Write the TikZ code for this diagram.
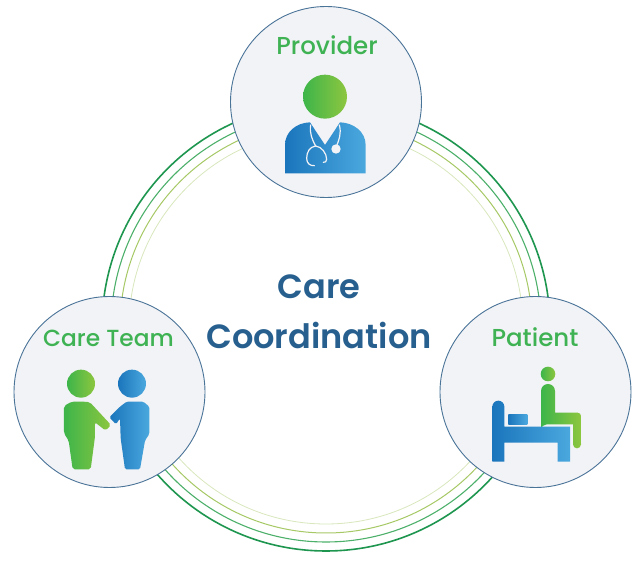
\documentclass[tikz,border=0pt]{standalone}
\usepackage{fontspec}
\setmainfont{Poppins}[BoldFont={Poppins Medium},Ligatures=NoCommon]
\newfontfamily\titlefont{Poppins SemiBold}[Ligatures=NoCommon]
\definecolor{ringa}{HTML}{1E9650}
\definecolor{ringb}{HTML}{4DB06A}
\definecolor{ringc}{HTML}{A6C865}
\definecolor{ringd}{HTML}{D8E7BC}
\definecolor{discfill}{HTML}{F2F3F6}
\definecolor{discline}{HTML}{4A7398}
\definecolor{labelgreen}{HTML}{3FB354}
\definecolor{titleblue}{HTML}{27608F}
\definecolor{gl}{HTML}{3DB54A}
\definecolor{gr}{HTML}{8DC63F}
\definecolor{bl}{HTML}{1B75BC}
\definecolor{br}{HTML}{4BA8DE}
\tikzset{
 disc/.style={circle,draw=discline,line width=0.9pt,fill=discfill,minimum size=191pt,inner sep=0pt},
 lab/.style={text=labelgreen,font=\fontsize{24.5}{24.5}\selectfont\bfseries,inner sep=0pt},
 ttl/.style={text=titleblue,font=\fontsize{33.6}{33.6}\titlefont,inner sep=0pt},
 greenic/.style={left color=gl,right color=gr,draw=none},
 blueic/.style={left color=bl,right color=br,draw=none},
 scope3/.style={x=0.33333pt,y=-0.33333pt},
 steth/.style={draw=discfill,line width=1.2pt,line cap=round,fill=none}
}
\begin{document}
\begin{tikzpicture}[x=1pt,y=-1pt]
\useasboundingbox (0,0) rectangle (641,561);
\coordinate (c) at (326,327);
\draw[ringd,line width=0.8pt] (c) circle (197pt);
\draw[ringc,line width=1pt] (c) circle (206pt);
\draw[ringb,line width=1.1pt] (c) circle (215pt);
\draw[ringa,line width=1.6pt] (c) circle (224pt);
\node[disc] (prov) at (326,102) {};
\node[disc] (team) at (109.5,392) {};
\node[disc] (pat) at (535.5,392) {};
\node[lab] (tprov) at (327,45) {Provider};
\node[lab,font=\fontsize{23.3}{23.3}\selectfont\bfseries] (tteam) at (108.5,338) {Care Team};
\node[lab] (tpat) at (535,337) {Patient};
\node[ttl] (t1) at (319,287) {Care};
\node[ttl] (t2) at (319,335) {Coordination};
% provider icon
\begin{scope}[shift={(225,0)},scope3]
\shade[greenic] (300,290) circle (22pt);
\shade[blueic] (180,520) -- (180,435) .. controls (180,395) and (215,368) .. (255,367) -- (300,435) -- (345,367) .. controls (385,368) and (422,395) .. (422,435) -- (422,520) -- cycle;
\draw[steth] (257,375) .. controls (253,400) and (262,420) .. (272,438) .. controls (255,440) and (245,455) .. (245,475) .. controls (245,490) and (255,498) .. (268,497);
\draw[steth] (272,438) .. controls (290,440) and (305,460) .. (305,478) .. controls (305,485) and (300,488) .. (295,487);
\draw[steth] (343,375) .. controls (350,400) and (342,420) .. (334,440);
\fill[discfill] (333,447) circle (4.7pt);
\end{scope}
% care team icon
\begin{scope}[shift={(10,290)},scope3]
\shade[greenic] (213,281) circle (14pt);
\shade[blueic] (366,281) circle (14pt);
\shade[greenic,rounded corners=2pt] (162,348) -- (162,430) -- (176,452) -- (188,538) -- (242,538) -- (255,440) -- (255,397) -- (287,422) -- (303,405) -- (240,337) -- (225,335) -- (185,335) -- cycle;
\shade[blueic,rounded corners=1.5pt] (298,382) -- (330,350) -- (350,335) -- (400,335) -- (418,350) -- (418,432) -- (405,452) -- (390,538) -- (345,538) -- (332,445) -- (330,385) -- (318,403) -- cycle;
\end{scope}
% patient icon
\begin{scope}[shift={(435,290)},scope3]
\shade[greenic] (339,252) circle (7.3pt);
\shade[greenic] (318,303) arc[start angle=180,end angle=0,radius=7pt] -- (360,368) -- (428,368) arc[start angle=90,end angle=0,radius=3.3pt] -- (438,463) arc[start angle=0,end angle=-180,radius=4pt] -- (414,403) -- (335,403) arc[start angle=90,end angle=180,radius=5.6pt] -- cycle;
\shade[blueic] (172,350) arc[start angle=180,end angle=0,radius=6pt] -- (208,410) -- (405,410) -- (405,515) -- (368,515) -- (368,458) -- (208,458) -- (208,515) -- (172,515) -- cycle;
\shade[blueic] (220,375) rectangle (277,403);
\end{scope}
\end{tikzpicture}
\end{document}
